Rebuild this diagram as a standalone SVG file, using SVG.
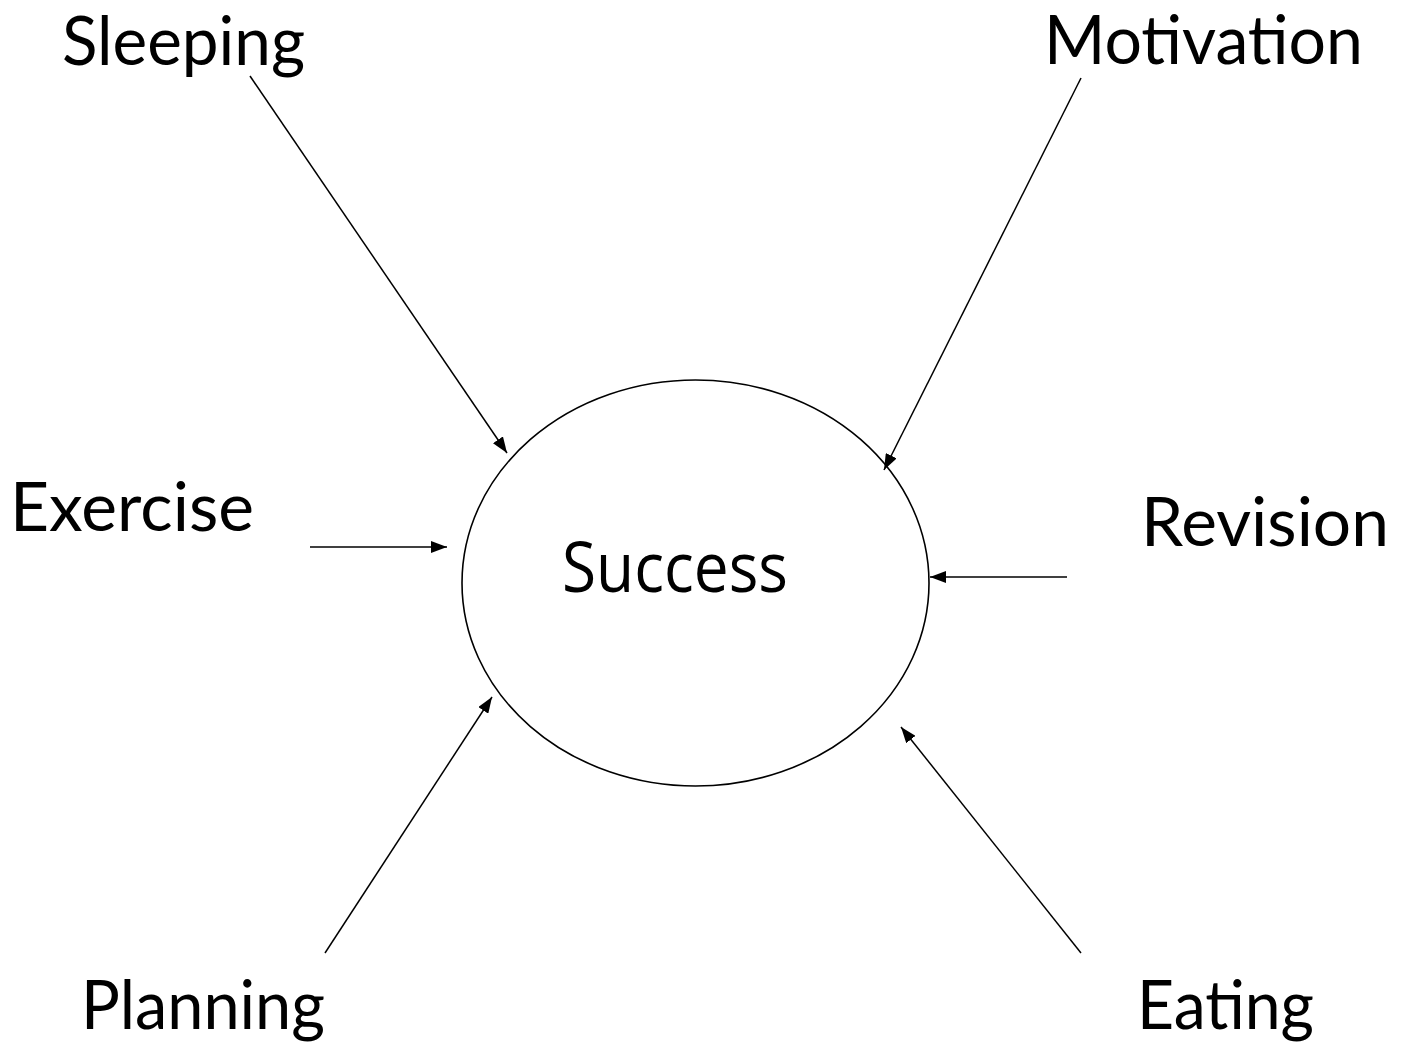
<svg xmlns="http://www.w3.org/2000/svg" width="1407" height="1048" viewBox="0 0 1407 1048">
<style>
.lbl{font-family:Lato,"Open Sans","Liberation Sans",sans-serif;font-size:67px;fill:#000}
.ctr{font-family:"Open Sans","Liberation Sans",sans-serif;font-size:69px;fill:#000}
.edge{stroke:#000;stroke-width:1.5;fill:none;marker-end:url(#ah)}
</style>
<defs>
<marker id="ah" markerUnits="userSpaceOnUse" markerWidth="17" markerHeight="12" refX="16" refY="6" orient="auto">
<path d="M0,0 L16,6 L0,12 Z" fill="#000"/>
</marker>
</defs>
<rect width="1407" height="1048" fill="#fff"/>
<g id="success">
<ellipse cx="695.5" cy="583" rx="233.5" ry="203" fill="none" stroke="#000" stroke-width="1.6"/>
<text class="ctr" x="562" y="592" textLength="226" lengthAdjust="spacingAndGlyphs">Success</text>
</g>
<g id="sleeping"><text class="lbl" x="62" y="65" textLength="243" lengthAdjust="spacingAndGlyphs">Sleeping</text></g>
<g id="motivation"><text class="lbl" x="1044" y="64" textLength="319" lengthAdjust="spacingAndGlyphs">Motivation</text></g>
<g id="exercise"><text class="lbl" x="10" y="531" textLength="244" lengthAdjust="spacingAndGlyphs">Exercise</text></g>
<g id="revision"><text class="lbl" x="1141" y="546" textLength="248" lengthAdjust="spacingAndGlyphs">Revision</text></g>
<g id="planning"><text class="lbl" x="81" y="1029" textLength="244" lengthAdjust="spacingAndGlyphs">Planning</text></g>
<g id="eating"><text class="lbl" x="1137" y="1029" textLength="177" lengthAdjust="spacingAndGlyphs">Eating</text></g>
<g id="connectors">
<line class="edge" x1="250" y1="76" x2="507" y2="453"/>
<line class="edge" x1="1081" y1="78" x2="884" y2="470"/>
<line class="edge" x1="310" y1="547" x2="447" y2="547"/>
<line class="edge" x1="1067" y1="577" x2="930" y2="577"/>
<line class="edge" x1="325" y1="953" x2="492" y2="697"/>
<line class="edge" x1="1081" y1="953" x2="901" y2="727"/>
</g>
</svg>
